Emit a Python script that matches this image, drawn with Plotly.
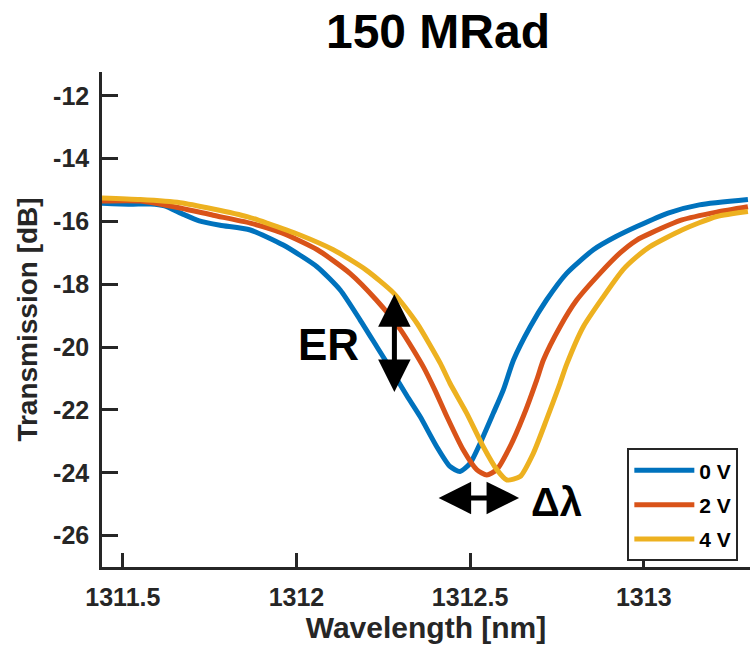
import plotly.graph_objects as go

# ---- data ----
wl_0v = [1311.44, 1311.52, 1311.58, 1311.62, 1311.67, 1311.72, 1311.78, 1311.867, 1311.962,
         1312.059, 1312.126, 1312.183, 1312.231, 1312.279, 1312.318, 1312.356, 1312.404,
         1312.442, 1312.471, 1312.50, 1312.529, 1312.567, 1312.596, 1312.625, 1312.673,
         1312.72, 1312.778, 1312.855, 1312.92, 1312.98, 1313.07, 1313.16, 1313.30]
tr_0v = [-15.42, -15.45, -15.44, -15.5, -15.75, -15.98, -16.12, -16.27, -16.75,
         -17.44, -18.18, -19.13, -19.98, -20.83, -21.55, -22.21, -23.17,
         -23.8, -23.96, -23.7, -23.06, -22.1, -21.35, -20.41, -19.35,
         -18.5, -17.65, -16.9, -16.48, -16.16, -15.73, -15.47, -15.3]

wl_2v = [1311.44, 1311.55, 1311.665, 1311.76, 1311.867, 1311.96, 1312.06, 1312.154, 1312.23,
         1312.30, 1312.365, 1312.40, 1312.433, 1312.48, 1312.519, 1312.548, 1312.577,
         1312.615, 1312.653, 1312.692, 1312.711, 1312.759, 1312.807, 1312.874, 1312.932,
         1312.98, 1313.02, 1313.11, 1313.21, 1313.30]
tr_2v = [-15.35, -15.35, -15.57, -15.8, -16.05, -16.37, -16.9, -17.65, -18.5,
         -19.45, -20.62, -21.4, -22.21, -23.27, -23.9, -24.07, -23.9,
         -23.17, -22.21, -21.04, -20.41, -19.35, -18.5, -17.65, -17.0,
         -16.59, -16.37, -15.95, -15.7, -15.53]

wl_4v = [1311.44, 1311.55, 1311.665, 1311.76, 1311.86, 1311.915, 1312.01, 1312.106, 1312.2,
         1312.28, 1312.347, 1312.414, 1312.442, 1312.49, 1312.538, 1312.577, 1312.606,
         1312.644, 1312.682, 1312.72, 1312.759, 1312.778, 1312.826, 1312.884, 1312.94,
         1312.98, 1313.018, 1313.11, 1313.21, 1313.30]
tr_4v = [-15.25, -15.3, -15.4, -15.6, -15.85, -16.05, -16.43, -16.9, -17.54,
         -18.28, -19.24, -20.51, -21.15, -22.1, -23.17, -23.9, -24.23,
         -24.12, -23.38, -22.31, -21.15, -20.55, -19.35, -18.39, -17.54,
         -17.12, -16.8, -16.27, -15.84, -15.68]

series_names = ["0 V", "2 V", "4 V"]
series_colors = ["#0072BD", "#D95319", "#EDB120"]

x_ticks = [1311.5, 1312, 1312.5, 1313]
x_tick_text = ["1311.5", "1312", "1312.5", "1313"]
y_ticks = [-26, -24, -22, -20, -18, -16, -14, -12]
y_tick_text = ["-26", "-24", "-22", "-20", "-18", "-16", "-14", "-12"]

er_arrow_x = 1312.282
er_arrow_y = [-18.27, -21.43]
dl_arrow_x = [1312.405, 1312.641]
dl_arrow_y = -24.8

FONT = "Liberation Sans, Arial, sans-serif"
AX = "#262626"

fig = go.Figure()
for i, (wl, tr, name, col) in enumerate(zip([wl_0v, wl_2v, wl_4v], [tr_0v, tr_2v, tr_4v],
                                            series_names, series_colors)):
    fig.add_trace(go.Scatter(x=wl, y=tr, mode="lines", name=name, legendgroup=f"g{i}",
                             line=dict(color=col, width=5, shape="spline", smoothing=0.6)))

fig.update_layout(
    width=750, height=653,
    margin=dict(l=102, r=0, t=72, b=86),
    paper_bgcolor="white", plot_bgcolor="white",
    showlegend=True,
    title=dict(text="<b>150 MRad</b>", x=0.5185, xref="paper", xanchor="center",
               y=1 - 31 / 653, yref="container", yanchor="middle",
               font=dict(family=FONT, size=48, color="black")),
    legend=dict(x=0.982, y=0.24, xanchor="right", yanchor="top",
                bgcolor="white", bordercolor="#262626", borderwidth=2,
                font=dict(family=FONT, size=21, color="black", weight="bold"),
                tracegroupgap=4, itemwidth=60),
)

fig.update_xaxes(range=[1311.44, 1313.306], tickmode="array", tickvals=x_ticks,
                 ticktext=[f"<b>{t}</b>" for t in x_tick_text], ticks="inside",
                 ticklen=14, tickwidth=2.5, automargin=False,
                 tickcolor=AX, showline=True, linecolor=AX, linewidth=2.5,
                 showgrid=False, zeroline=False, ticklabelstandoff=6,
                 tickfont=dict(family=FONT, size=25, color=AX),
                 title=dict(text="<b>Wavelength [nm]</b>", standoff=6,
                            font=dict(family=FONT, size=30, color=AX)))
fig.update_yaxes(range=[-27, -11.24], tickmode="array", tickvals=y_ticks,
                 ticktext=[f"<b>{t}</b>" for t in y_tick_text],
                 ticks="inside", ticklen=16, tickwidth=2.5, automargin=False,
                 tickcolor=AX, showline=True, linecolor=AX, linewidth=2.5,
                 showgrid=False, zeroline=False, ticklabelstandoff=5,
                 tickfont=dict(family=FONT, size=25, color=AX),
                 title=dict(text="<b>Transmission [dB]</b>", standoff=8,
                            font=dict(family=FONT, size=28, color=AX)))

# ER double arrow
fig.add_annotation(x=er_arrow_x, y=er_arrow_y[1], ax=er_arrow_x, ay=er_arrow_y[0],
                   xref="x", yref="y", axref="x", ayref="y", text="",
                   showarrow=True, arrowhead=2, arrowside="end+start",
                   arrowsize=1.3, arrowwidth=5, arrowcolor="black")
fig.add_annotation(x=1312.091, y=-19.9, xref="x", yref="y", text="<b>ER</b>", showarrow=False,
                   font=dict(family=FONT, size=44, color="black"))
# delta lambda double arrow
fig.add_annotation(x=dl_arrow_x[1], y=dl_arrow_y, ax=dl_arrow_x[0], ay=dl_arrow_y,
                   xref="x", yref="y", axref="x", ayref="y", text="",
                   showarrow=True, arrowhead=2, arrowside="end+start",
                   arrowsize=1.3, arrowwidth=5, arrowcolor="black")
fig.add_annotation(x=1312.75, y=-24.93, xref="x", yref="y", text="<b>Δλ</b>", showarrow=False,
                   font=dict(family=FONT, size=40, color="black"))

fig.write_html("out.html", config={"displayModeBar": False},
               post_script="document.body.style.margin='0';document.body.style.padding='0';")
